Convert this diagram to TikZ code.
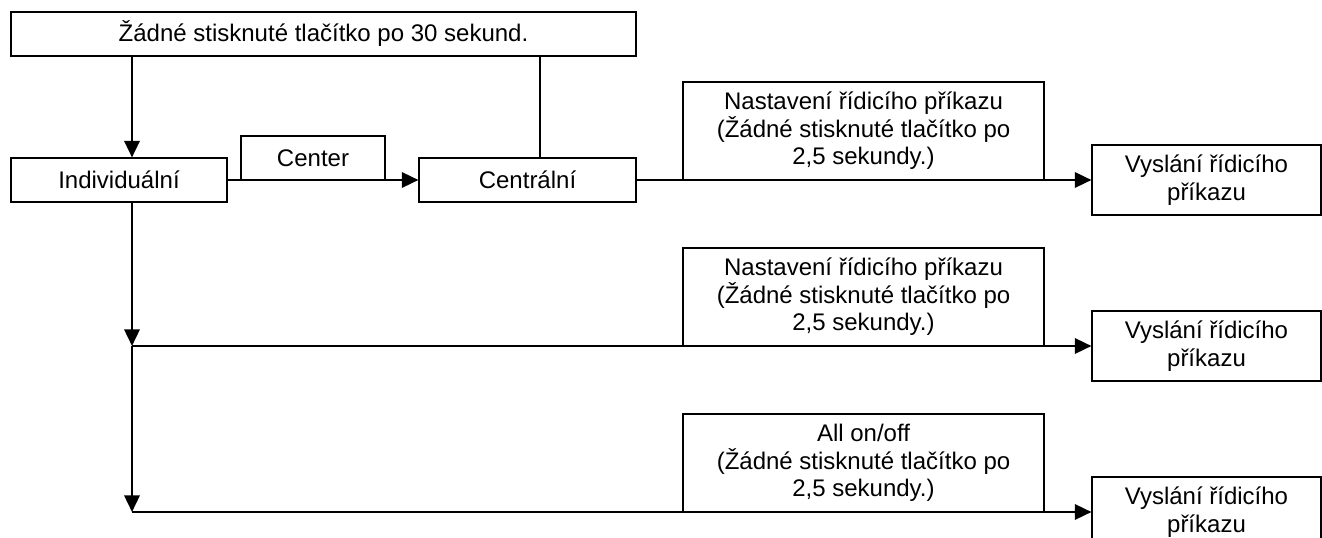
\documentclass[tikz,border=0pt]{standalone}
\usepackage{fontspec}
\setmainfont{Liberation Sans}
\usetikzlibrary{arrows.meta,positioning,calc}

\begin{document}
\begin{tikzpicture}[x=0.75pt,y=-0.75pt,
	box/.style={draw=black, line width=0.8pt, fill=white, align=center, inner sep=0pt, font=\fontsize{18}{20.7}\selectfont},
	conn/.style={line width=1.9pt, -{Triangle[length=12.5pt,width=11.5pt]}},
	link/.style={line width=1.9pt}]
	\def \px {0.75pt}; %one pixel of the reference
	\def \TrunkX {132}; %x of the left vertical line
	\def \BackX {540}; %x of the line back to the top box
	\def \RowA {180}; %y of the first row
	\def \RowB {346}; %y of the second row
	\def \RowC {512}; %y of the third row
	\def \SetX {863.5}; %centre of the setting boxes
	\def \SendX {1206.5}; %centre of the sending boxes
	\useasboundingbox (0,0) rectangle (1322,538);
	%Top and first row
	%===========================================================
	\node[box, minimum width=625*\px, minimum height=44*\px] (wait) at (323.5,34) {Žádné stisknuté tlačítko po 30 sekund.};
	\node[box, minimum width=216*\px, minimum height=44*\px] (indiv) at (119,\RowA) {Individuální};
	\node[box, minimum width=144*\px, minimum height=44*\px] (ctr) at (313,\RowA-22) {Center};
	\node[box, minimum width=217*\px, minimum height=44*\px] (central) at (527.5,\RowA) {Centrální};
	\coordinate (trunk) at (\TrunkX,\RowB); %Junction of the second row
	\coordinate (trunkc) at (\TrunkX,\RowC); %Junction of the third row
	\coordinate (back) at (\BackX,100); %x of the back line
	%Setting and sending boxes
	%===========================================================
	\node[box, minimum width=361*\px, minimum height=98*\px] (set1) at (\SetX,\RowA-49) {Nastavení řídicího příkazu\\(Žádné stisknuté tlačítko po\\2,5 sekundy.)};
	\node[box, minimum width=361*\px, minimum height=98*\px] (set2) at (\SetX,\RowB-49) {Nastavení řídicího příkazu\\(Žádné stisknuté tlačítko po\\2,5 sekundy.)};
	\node[box, minimum width=361*\px, minimum height=98*\px] (set3) at (\SetX,\RowC-49) {All on/off\\(Žádné stisknuté tlačítko po\\2,5 sekundy.)};
	\node[box, minimum width=229*\px, minimum height=70*\px] (send1) at (\SendX,\RowA) {Vyslání řídicího\\příkazu};
	\node[box, minimum width=229*\px, minimum height=70*\px] (send2) at (\SendX,\RowB) {Vyslání řídicího\\příkazu};
	\node[box, minimum width=229*\px, minimum height=70*\px] (send3) at (\SendX,\RowC) {Vyslání řídicího\\příkazu};
	%Connectors
	%===========================================================
	\draw[conn] (wait.south -| trunk) -- (indiv.north -| trunk); %down to Individualni
	\draw[link] (wait.south -| back) -- (central.north -| back); %back line, no tip
	\draw[conn] (indiv.east) -- (central.west); %Center
	\draw[conn] (central.east) -- (send1.west); %first row
	\draw[conn] (indiv.south -| trunk) -- (trunk); %down to second row
	\draw[conn] (trunk) -- (trunkc); %down to third row
	\draw[conn] (trunk) -- (send2.west); %second row
	\draw[conn] (trunkc) -- (send3.west); %third row
\end{tikzpicture}
\end{document}
